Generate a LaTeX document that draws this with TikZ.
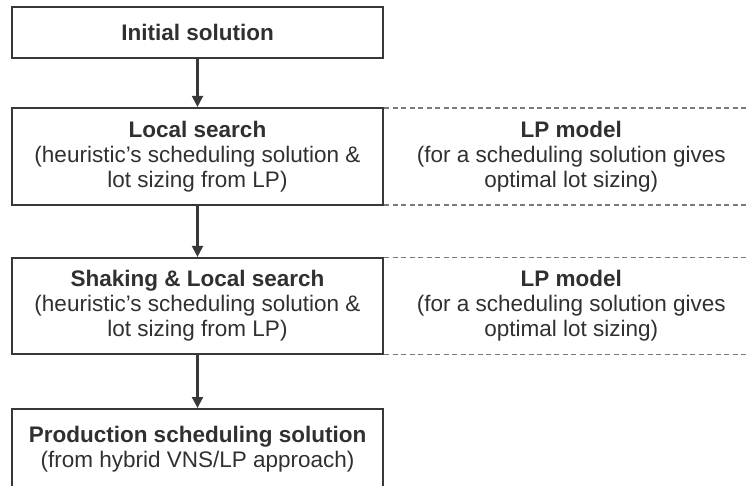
\documentclass[tikz,border=0pt]{standalone}
\usepackage{fontspec}
\setmainfont{Liberation Sans}
\usetikzlibrary{arrows.meta}

\definecolor{boxgray}{HTML}{383838}
\definecolor{textgray}{HTML}{303030}
\definecolor{dashgray}{HTML}{7A7A7A}

\begin{document}
\begin{tikzpicture}[x=1pt, y=-1pt,
    box/.style={draw=boxgray, line width=2.2pt, minimum width=371pt, inner sep=0pt,
                align=center, text=textgray, font=\fontsize{22.5}{25}\selectfont},
    lpbox/.style={minimum width=374pt, inner sep=0pt, align=center, text=textgray,
                  font=\fontsize{22.5}{25}\selectfont},
    flow/.style={draw=boxgray, line width=2.2pt, -{Triangle[length=11pt,width=11pt]}},
    sep/.style={draw=dashgray, line width=1.5pt, dash pattern=on 5pt off 3.5pt}]
    % Parameters
    \def\midx{197.5}

    % Page frame
    \clip (0,0) rectangle (747,486);

    % Flow boxes
    \node[box, minimum height=51pt] (init) at (\midx,32.5) {\textbf{Initial solution}};
    \node[box, minimum height=97pt] (local) at (\midx,156.5)
        {\textbf{Local search}\\(heuristic's scheduling solution \&\\lot sizing from LP)};
    \node[box, minimum height=96pt] (shake) at (\midx,306)
        {\textbf{Shaking \& Local search}\\(heuristic's scheduling solution \&\\lot sizing from LP)};
    \node[box, anchor=north, text height=58pt, text depth=45pt] (prod) at (\midx,408)
        {\textbf{Production scheduling solution}\\(from hybrid VNS/LP approach)};

    % LP model beside the searches
    \foreach \s/\n in {local/lpa, shake/lpb} {
        \node[lpbox, minimum height=97pt, anchor=west] (\n) at (\s.east)
            {\textbf{LP model}\\(for a scheduling solution gives\\optimal lot sizing)};
        \draw[sep] (\n.north west) -- (\n.north east); % Top
        \draw[sep] (\n.south west) -- (\n.south east); % Bottom
    }

    % Arrows
    \foreach \a/\b in {init/local, local/shake, shake/prod}
        \draw[flow] (\a) -- (\b);
\end{tikzpicture}
\end{document}
